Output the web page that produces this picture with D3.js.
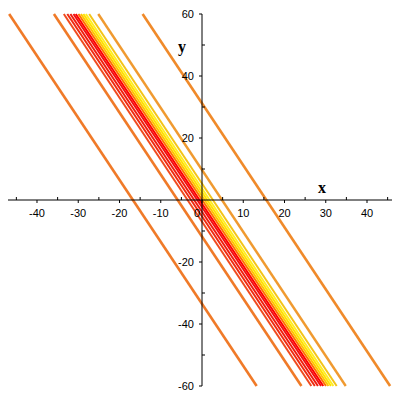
<!DOCTYPE html>
<html><head><meta charset="utf-8">
<script src="https://cdn.jsdelivr.net/npm/d3@7"></script>
<style>body{margin:0;background:#fff}svg{display:block}</style>
</head><body>
<svg id="c" width="400" height="400"></svg>
<script>
// contour levels of 2x + y = c (left to right)
const levels = [-33.5, -11.8, -7, -5.3, -3.8, -2.3, -1.2, 0.1, 1.3, 2.5, 3.7, 5.3, 9.7, 31.2];
const levelColors = ["#f07a28", "#f07a28", "#f04a1e", "#f02a10", "#f01c0c", "#f01010", "#ff0000", "#ff7000",
                     "#ffc400", "#ffe000", "#ffee20", "#f4c418", "#f09a30", "#f08a2a"];
const levelWidths = [2.6, 2.6, 2, 2, 2, 2, 2, 2, 2, 2, 2, 2, 2.4, 2.6];
const xTicks = [-40, -30, -20, -10, 0, 10, 20, 30, 40];
const yTicks = [-60, -40, -20, 20, 40, 60];
const xDomain = [-47.03, 46.06];
const yDomain = [-60, 60];

const svg = d3.select("#c");
const x = d3.scaleLinear().domain(xDomain).range([8, 392]);
const y = d3.scaleLinear().domain(yDomain).range([386, 14]);

// contour lines
const g = svg.append("g");
levels.forEach((c, i) => {
  const pts = [[(c - yDomain[1]) / 2, yDomain[1]], [(c - yDomain[0]) / 2, yDomain[0]]];
  g.append("line")
    .attr("x1", x(pts[0][0])).attr("y1", y(pts[0][1]))
    .attr("x2", x(pts[1][0])).attr("y2", y(pts[1][1]))
    .attr("stroke", levelColors[i]).attr("stroke-width", levelWidths[i]);
});

// axes
const ax = svg.append("g").attr("stroke", "#000").attr("stroke-width", 1);
ax.append("line").attr("x1", x(xDomain[0])).attr("x2", x(xDomain[1])).attr("y1", y(0)).attr("y2", y(0));
ax.append("line").attr("x1", x(0)).attr("x2", x(0)).attr("y1", y(yDomain[0])).attr("y2", y(yDomain[1]));
d3.range(-45, 46, 5).forEach(v => {
  const major = v % 10 === 0;
  ax.append("line").attr("x1", x(v)).attr("x2", x(v))
    .attr("y1", y(0)).attr("y2", y(0) + (major ? 3 : -3));
});
d3.range(-60, 61, 10).forEach(v => {
  if (v === 0) return;
  const major = v % 20 === 0;
  ax.append("line").attr("y1", y(v)).attr("y2", y(v))
    .attr("x1", x(0)).attr("x2", x(0) + (major ? -3 : 3));
});

const tf = "'Liberation Sans', Arial, sans-serif";
svg.append("g").selectAll("text").data(xTicks).join("text")
  .attr("x", d => d === 0 ? x(0) - 5 : x(d)).attr("y", y(0) + 17)
  .attr("text-anchor", "middle").attr("font-family", tf).attr("font-size", 11)
  .text(d => d);
svg.append("g").selectAll("text").data(yTicks).join("text")
  .attr("x", x(0) - 8).attr("y", d => y(d) + 4)
  .attr("text-anchor", "end").attr("font-family", tf).attr("font-size", 11)
  .text(d => d);

svg.append("text").attr("x", 322).attr("y", 193).attr("text-anchor", "middle")
  .attr("font-family", "'Liberation Serif', 'Times New Roman', serif").attr("font-weight", "bold")
  .attr("font-size", 16).text("x");
svg.append("text").attr("x", 182).attr("y", 52).attr("text-anchor", "middle")
  .attr("font-family", "'Liberation Serif', 'Times New Roman', serif").attr("font-weight", "bold")
  .attr("font-size", 16).text("y");
</script>
</body></html>
